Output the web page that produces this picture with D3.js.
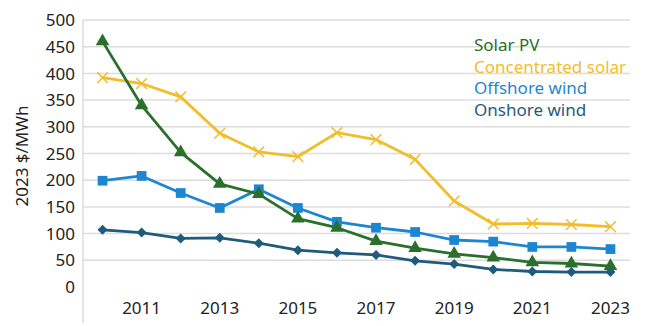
<!DOCTYPE html>
<html>
<head>
<meta charset="utf-8">
<script src="https://cdn.jsdelivr.net/npm/d3@7"></script>
<style>
  body { margin: 0; background: #fff; }
  svg text { font-family: "Noto Sans", "Open Sans", sans-serif; }
</style>
</head>
<body>
<svg id="chart" width="669" height="326"></svg>
<script>
const years = d3.range(2010, 2024);
const tickYears = [2011, 2013, 2015, 2017, 2019, 2021, 2023];
const yTicks = [0, 50, 100, 150, 200, 250, 300, 350, 400, 450, 500];

const solarPV = [460, 340, 252, 193, 174, 128, 111, 86, 73, 62, 55, 46, 44, 39];
const concSolar = [392, 381, 356, 288, 253, 244, 289, 276, 239, 161, 118, 119, 117, 113];
const offshore = [199, 208, 176, 148, 183, 148, 122, 111, 103, 88, 85, 75, 75, 71];
const onshore = [107, 102, 91, 92, 82, 69, 64, 60, 49, 43, 33, 29, 28, 28];

const seriesNames = ["Solar PV", "Concentrated solar", "Offshore wind", "Onshore wind"];
const seriesColors = ["#2a702c", "#f2bd2a", "#1c87d0", "#1f5b7c"];
const seriesMarkers = ["triangle", "cross", "square", "diamond"];
const seriesValues = [solarPV, concSolar, offshore, onshore];

const svg = d3.select("#chart");
const plotLeft = 83, plotRight = 630, plotTop = 20, plotBottom = 287;

const x = d3.scaleBand().domain(years).range([plotLeft, plotRight]);
const cx = d => x(d) + x.bandwidth() / 2;
const y = d3.scaleLinear().domain([0, 500]).range([plotBottom, plotTop]);

// gridlines
svg.append("g")
    .selectAll("line")
    .data(yTicks.filter(d => d > 0))
    .enter()
    .append("line")
    .attr("x1", plotLeft)
    .attr("x2", plotRight)
    .attr("y1", d => y(d))
    .attr("y2", d => y(d))
    .attr("stroke", "#dcdcdc")
    .attr("stroke-width", 1.5);

// left axis line
svg.append("line")
    .attr("x1", plotLeft).attr("x2", plotLeft)
    .attr("y1", plotTop).attr("y2", plotBottom + 36)
    .attr("stroke", "#dcdcdc").attr("stroke-width", 1.5);

svg.append("g")
    .selectAll("text")
    .data(yTicks)
    .enter()
    .append("text")
    .attr("x", 75)
    .attr("y", d => y(d))
    .attr("dy", "0.36em")
    .attr("text-anchor", "end")
    .attr("font-size", 17)
    .attr("fill", "#222")
    .text(d => d);

svg.append("g")
    .selectAll("text")
    .data(tickYears)
    .enter()
    .append("text")
    .attr("x", d => cx(d))
    .attr("y", 314)
    .attr("text-anchor", "middle")
    .attr("font-size", 17)
    .attr("fill", "#222")
    .text(d => d);

svg.append("text")
    .attr("transform", "translate(28, 156) rotate(-90)")
    .attr("text-anchor", "middle")
    .attr("font-size", 17)
    .attr("fill", "#222")
    .text("2023 $/MWh");

const line = d3.line()
    .x((d, i) => cx(years[i]))
    .y(d => y(d));

const symbolType = {
    triangle: d3.symbolTriangle,
    square: d3.symbolSquare,
    diamond: d3.symbolSquare,
    cross: d3.symbolX
};
const symbolSize = { triangle: 80, square: 95, diamond: 50, cross: 75 };

// draw back to front: onshore, offshore, conc. solar, solar PV
[3, 2, 1, 0].forEach(k => {
    const g = svg.append("g");
    g.append("path")
        .datum(seriesValues[k])
        .attr("d", line)
        .attr("fill", "none")
        .attr("stroke", seriesColors[k])
        .attr("stroke-width", 2.8)
        .attr("stroke-linejoin", "round");
    const m = seriesMarkers[k];
    g.selectAll("path.marker")
        .data(seriesValues[k])
        .enter()
        .append("path")
        .classed("marker", true)
        .attr("d", d3.symbol().type(symbolType[m]).size(symbolSize[m]))
        .attr("transform", (d, i) =>
            `translate(${cx(years[i])}, ${y(d)})` + (m === "diamond" ? " rotate(45)" : ""))
        .attr("fill", m === "cross" ? "none" : seriesColors[k])
        .attr("stroke", seriesColors[k])
        .attr("stroke-width", m === "cross" ? 1.5 : 0);
});

svg.append("g")
    .selectAll("text")
    .data(seriesNames)
    .enter()
    .append("text")
    .attr("x", 474)
    .attr("y", (d, i) => 51 + i * 21.5)
    .attr("font-size", 17)
    .attr("fill", (d, i) => seriesColors[i])
    .text(d => d);
</script>
</body>
</html>
